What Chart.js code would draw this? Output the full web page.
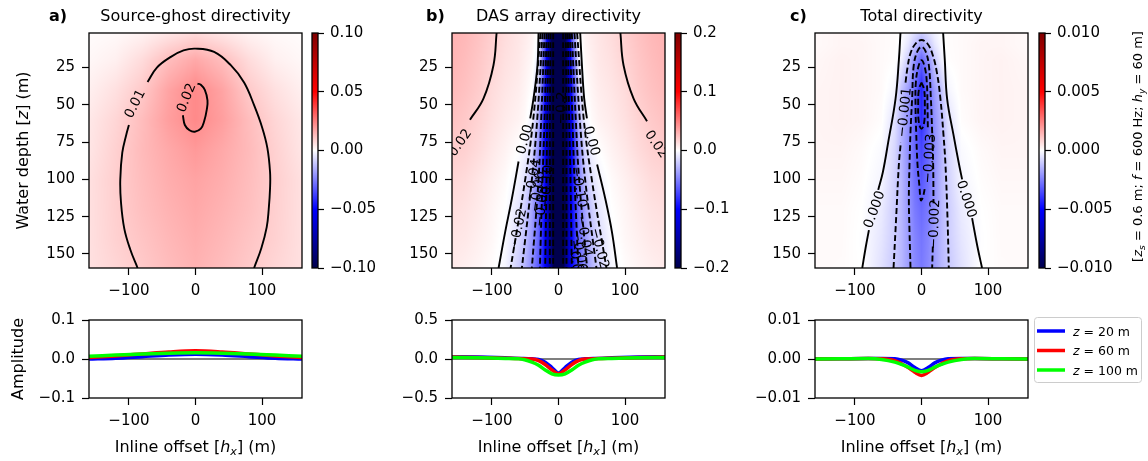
<!DOCTYPE html>
<html>
<head>
<meta charset="utf-8">
<script src="https://cdn.jsdelivr.net/npm/chart.js@4.4.1/dist/chart.umd.min.js"></script>
<style>
  body { margin: 0; background: #fff; }
  #fig { position: relative; width: 1148px; height: 461px; overflow: hidden; background: #fff; }
  #fig canvas { position: absolute; left: 0; top: 0; }
</style>
</head>
<body>
<div id="fig"></div>
<script>
// ---------------- data ----------------
const offsetRange = [-160, 160];
const depthRange = [1.8, 159.4];
const offsetTicks = [-100, 0, 100];
const depthTicks = [25, 50, 75, 100, 125, 150];

// a) source-ghost directivity, half profile (symmetric in offset)
const ghostOffsets = [0, 40, 80, 120, 160];
const ghostDepths = [0, 20, 40, 60, 80, 100, 120, 140, 160];
const ghostField = [
  [0.006, 0.004, 0.002, 0.001, 0.0005],
  [0.017, 0.013, 0.007, 0.003, 0.0015],
  [0.023, 0.018, 0.0105, 0.006, 0.003],
  [0.023, 0.019, 0.013, 0.008, 0.0045],
  [0.020, 0.017, 0.0135, 0.009, 0.005],
  [0.018, 0.016, 0.013, 0.0095, 0.006],
  [0.017, 0.015, 0.0125, 0.0093, 0.006],
  [0.016, 0.014, 0.0115, 0.009, 0.006],
  [0.015, 0.013, 0.0105, 0.008, 0.006]
];
// b) DAS array directivity
const dasOffsets = [0, 10, 20, 30, 40, 50, 60, 80, 100, 120, 140, 160];
const dasDepths = [0, 20, 40, 60, 80, 100, 120, 140, 160];
const dasField = [
  [-0.4, -0.2, -0.06, 0.0, 0.005, 0.008, 0.010, 0.014, 0.019, 0.024, 0.028, 0.030],
  [-0.4, -0.2, -0.08, -0.008, 0.003, 0.006, 0.009, 0.012, 0.017, 0.022, 0.026, 0.029],
  [-0.4, -0.2, -0.09, -0.02, 0.0, 0.004, 0.007, 0.010, 0.014, 0.020, 0.024, 0.027],
  [-0.4, -0.2, -0.10, -0.03, -0.005, 0.002, 0.005, 0.008, 0.012, 0.017, 0.021, 0.024],
  [-0.4, -0.2, -0.10, -0.045, -0.015, -0.005, 0.0, 0.005, 0.009, 0.014, 0.018, 0.020],
  [-0.4, -0.2, -0.10, -0.05, -0.025, -0.012, -0.005, 0.002, 0.006, 0.010, 0.014, 0.016],
  [-0.35, -0.2, -0.10, -0.06, -0.035, -0.02, -0.01, 0.0, 0.004, 0.008, 0.011, 0.013],
  [-0.3, -0.18, -0.10, -0.06, -0.04, -0.025, -0.015, -0.002, 0.003, 0.006, 0.009, 0.010],
  [-0.3, -0.17, -0.10, -0.065, -0.045, -0.03, -0.02, -0.004, 0.001, 0.004, 0.006, 0.008]
];
// c) total directivity
const totalOffsets = [0, 10, 20, 30, 40, 60, 90, 120, 160];
const totalDepths = [0, 10, 20, 40, 60, 80, 100, 120, 140, 160];
const totalField = [
  [-0.0007, -0.0005, -0.0002, 0.0, 0.00005, 0.0001, 0.00015, 0.0002, 0.0001],
  [-0.0019, -0.0012, -0.0005, -0.0001, 0.00005, 0.0001, 0.0002, 0.0002, 0.0001],
  [-0.0030, -0.0022, -0.0010, -0.0003, 0.00003, 0.0001, 0.0002, 0.00025, 0.00015],
  [-0.0043, -0.0029, -0.0019, -0.0012, -0.0002, 0.0001, 0.0002, 0.00025, 0.0002],
  [-0.0041, -0.0031, -0.0021, -0.0014, -0.0006, 0.00005, 0.0002, 0.00025, 0.0002],
  [-0.0036, -0.0030, -0.0022, -0.0015, -0.0008, -0.0001, 0.0001, 0.0002, 0.0002],
  [-0.0033, -0.0028, -0.0021, -0.0014, -0.0009, -0.0002, 0.00005, 0.00015, 0.00015],
  [-0.0029, -0.0026, -0.0020, -0.0014, -0.0010, -0.0004, 0.0, 0.0001, 0.0001],
  [-0.0027, -0.0024, -0.0019, -0.0014, -0.0010, -0.0005, -0.00003, 0.0001, 0.0001],
  [-0.0026, -0.0023, -0.0019, -0.0014, -0.0011, -0.0006, 0.0, 0.00008, 0.0001]
];

// colour bar limits and ticks
const cbarTicksA = [-0.1, -0.05, 0, 0.05, 0.1];
const cbarTicksB = [-0.2, -0.1, 0, 0.1, 0.2];
const cbarTicksC = [-0.01, -0.005, 0, 0.005, 0.01];

// contour lines [offset, depth]; null = break for a label
const ghost001 = [[-87, 159.4], [-98, 147], [-107, 133], [-112, 115], [-113, 100], [-110, 82], [-104, 70], [-100, 63.5], null,
  [-72, 34.6], [-58, 25], [-37, 17.8], [-18, 13.5], [0, 12.3], [28, 14.5], [53, 23.4], [73, 35], [88, 50.2], [100, 65],
  [108, 79], [112, 95], [112, 106], [110, 120], [107, 132], [99, 146], [88, 159.4]];
const ghost002 = [[-19, 57], [-16, 63.5], [-9, 67], [-1, 68], [8, 66], [13, 61], [17, 53], [18, 47], [14, 40], [8, 36.5], [3, 35.7]];
const ghostLabels = [['0.01', -92, 49, -63], ['0.02', -15, 45, -68]];

const das002L = [[-93, 1.8], [-97.7, 23.4], [-112.8, 45.8], [-133, 60]];
const das002R = [[93, 1.8], [97.7, 23.4], [112.8, 45.8], [133, 61]];
const das000L = [[-30, 1.8], [-31.6, 23.4], [-37.6, 45.8], [-42.5, 59], null, [-60, 88], [-70, 112.8], [-80, 135], [-90, 159.4]];
const das000R = [[32.6, 1.8], [35.2, 23.4], [38.6, 45.8], [42.7, 59], null, [58, 90], [70.2, 112.8], [80.2, 135], [88, 159.4]];
const dasNegDepths = [1.8, 60, 100, 159.4];
const dasNegL = [[-27, -38, -50, -72], [-24, -32, -40, -55], [-21, -26, -30, -40], [-18, -21, -24, -28], [-15, -17, -18, -20], [-12, -13, -13, -13], [-8, -8, -8, -8]];
const dasNegR = [[28, 38, 50, 72], [24, 32, 40, 57], [20, 26, 31, 43], [17, 21, 24, 30], [14, 16, 18, 20], [11, 12, 12, 12], [7, 7, 7, 7]];
const dasLabels = [['0.02', -149, 75, -55], ['0.02', 148, 76, 55], ['0.00', -52, 73, -74], ['0.00', 51, 74, 74],
  ['\u22120.02', -62, 133, -78], ['\u22120.02', 63, 146, 76], ['\u22120.04', -40, 100, -80], ['\u22120.06', -33, 108, -82],
  ['\u22120.08', -27, 118, -84], ['\u22120.10', -19, 104, -85], ['\u22120.04', 40, 138, 80], ['\u22120.06', 33, 148, 82],
  ['\u22120.08', 27, 154, 84], ['\u22120.10', 32, 105, 80], ['\u22120.2', 3, 52, -88]];

const total000L = [[-31.6, 1.8], [-34, 20], [-39, 46], [-50, 75], [-58, 95], [-65, 107], null, [-79, 134], [-84, 146], [-89, 159.4]];
const total000R = [[32.5, 1.8], [35, 20], [38.5, 46], [48, 70], [56, 89], [61, 100], null, [76, 126], [84, 145], [91, 159.4]];
const total001 = [[-42, 159.4], [-38, 125], [-34, 90], [-31, 75], null, [-24, 35], [-21, 25], [-16.5, 15.4], [-9, 9], [0, 6.5],
  [9, 9], [16, 15.4], [23, 28], [28.6, 46.7], [33, 70], [36, 90], [39, 125], [41, 159.4]];
const total002 = [[-16.5, 159.4], [-18, 135], [-19, 112.7], [-18, 90], [-16.5, 68], [-14, 45], [-11.6, 23.4], [-6, 14], [0, 11.1],
  [6, 14], [11, 23.4], [14, 45], [16, 68], [17.5, 90], [18, 112], [18, 116], null, [17, 145], [16, 159.4]];
const total003 = [[9.5, 65], [9, 50], [8, 35], [5, 25], [0, 20], [-5, 25], [-8.5, 35], [-9, 50], [-8, 68], [-6, 90], [-3, 105],
  [-1, 114], [2, 112], [5, 106]];
const total004 = [[0, 35], [4, 40], [5, 50], [4.5, 60], [2, 65], [0, 66], [-2, 65], [-4.5, 60], [-5, 50], [-4, 40], [0, 35]];
const totalLabels = [['0.000', -72, 120, -70], ['0.000', 69, 113, 72], ['\u22120.001', -27, 55, -84],
  ['\u22120.002', 18, 130, -88], ['\u22120.003', 10.5, 86, -86]];

// amplitude sections at three depths
const ampTicksA = [-0.1, 0, 0.1];
const ampTicksB = [-0.5, 0, 0.5];
const ampTicksC = [-0.01, 0, 0.01];
const sectionOffsetsA = [-160, -120, -80, -40, 0, 40, 80, 120, 160];
const ghostAmpZ20 = [0.000, 0.002, 0.006, 0.010, 0.012, 0.010, 0.006, 0.002, 0.000];
const ghostAmpZ60 = [0.004, 0.008, 0.013, 0.018, 0.021, 0.018, 0.013, 0.008, 0.004];
const ghostAmpZ100 = [0.007, 0.010, 0.013, 0.015, 0.016, 0.015, 0.013, 0.010, 0.007];
const sectionOffsets = [-160, -120, -80, -60, -40, -30, -20, -10, 0, 10, 20, 30, 40, 60, 80, 120, 160];
const dasAmpZ20 = [0.03, 0.025, 0.015, 0.008, 0.002, -0.005, -0.04, -0.11, -0.18, -0.11, -0.04, -0.005, 0.002, 0.008, 0.015, 0.025, 0.03];
const dasAmpZ60 = [0.025, 0.02, 0.01, 0.005, 0.0, -0.02, -0.07, -0.14, -0.19, -0.14, -0.07, -0.02, 0.0, 0.005, 0.01, 0.02, 0.025];
const dasAmpZ100 = [0.02, 0.015, 0.008, 0.003, -0.04, -0.08, -0.14, -0.19, -0.205, -0.19, -0.14, -0.08, -0.04, 0.003, 0.008, 0.015, 0.02];
const totalAmpZ20 = [0, 0.00005, 0.0001, 0.0001, 0.00005, -0.0003, -0.001, -0.0022, -0.003, -0.0022, -0.001, -0.0003, 0.00005, 0.0001, 0.0001, 0.00005, 0];
const totalAmpZ60 = [0, 0.00005, 0.0001, 0.00005, -0.0004, -0.0012, -0.0022, -0.0034, -0.0042, -0.0034, -0.0022, -0.0012, -0.0004, 0.00005, 0.0001, 0.00005, 0];
const totalAmpZ100 = [0, 0.00005, 0.0001, -0.0001, -0.0008, -0.0014, -0.0021, -0.0029, -0.0033, -0.0029, -0.0021, -0.0014, -0.0008, -0.0001, 0.0001, 0.00005, 0];
const seriesNames = ['20 m', '60 m', '100 m'];
const seriesColors = ['#0000ff', '#ff0000', '#00ff00'];

// ---------------- helpers ----------------
const W = 1148, H = 461;
const FAMILY = "'DejaVu Sans', sans-serif";

function fmt(v, d) {
  return (v < 0 ? '\u2212' : '') + Math.abs(v).toFixed(d);
}

// matplotlib "seismic"
function seismic(t) {
  const f = Math.min(1, Math.max(0, (t + 1) / 2));
  const stops = [[0, 0, 0, 0.3], [0.25, 0, 0, 1], [0.5, 1, 1, 1], [0.75, 1, 0, 0], [1, 0.5, 0, 0]];
  for (let k = 1; k < stops.length; k++) {
    if (f <= stops[k][0]) {
      const a = stops[k - 1], b = stops[k], u = (f - a[0]) / (b[0] - a[0]);
      return [1, 2, 3].map(c => Math.round(255 * (a[c] + u * (b[c] - a[c]))));
    }
  }
  return [128, 0, 0];
}

function locate(arr, v) {
  const n = arr.length - 1;
  if (v <= arr[0]) return [0, 0, 0];
  if (v >= arr[n]) return [n, n, 0];
  let k = 0;
  while (arr[k + 1] < v) k++;
  return [k, k + 1, (v - arr[k]) / (arr[k + 1] - arr[k])];
}

function sample(f, hx, z) {
  const [i0, i1, u] = locate(f.xs, Math.abs(hx));
  const [j0, j1, w] = locate(f.zs, z);
  const a = f.v[j0][i0] * (1 - u) + f.v[j0][i1] * u;
  const b = f.v[j1][i0] * (1 - u) + f.v[j1][i1] * u;
  return a * (1 - w) + b * w;
}

function runFont(style, size, weight) {
  const sz = style === 's' ? size * 0.7 : size;
  const it = (style === 'i' || style === 's') ? 'italic' : 'normal';
  return it + ' ' + (weight || 'normal') + ' ' + sz + 'px ' + FAMILY;
}

// runs: [text, style] with style '' | 'i' (italic) | 's' (italic subscript)
function drawRich(ctx, runs, x, y, size, o) {
  o = o || {};
  ctx.save();
  ctx.translate(x, y);
  if (o.rot) ctx.rotate(o.rot * Math.PI / 180);
  ctx.fillStyle = '#000';
  ctx.textAlign = 'left';
  ctx.textBaseline = 'alphabetic';
  let total = 0;
  const widths = runs.map(r => { ctx.font = runFont(r[1], size, o.weight); const w = ctx.measureText(r[0]).width; total += w; return w; });
  let cx = o.align === 'left' ? 0 : -total / 2;
  runs.forEach((r, i) => {
    ctx.font = runFont(r[1], size, o.weight);
    ctx.fillText(r[0], cx, size * 0.36 + (r[1] === 's' ? size * 0.22 : 0));
    cx += widths[i];
  });
  ctx.restore();
}

function addCanvas() {
  const c = document.createElement('canvas');
  c.width = W; c.height = H;
  c.style.width = W + 'px'; c.style.height = H + 'px';
  document.getElementById('fig').appendChild(c);
  return c;
}

function axisOpts(ticksArr, d, extra, cb) {
  return Object.assign({
    type: 'linear',
    afterBuildTicks: s => { s.ticks = ticksArr.map(v => ({ value: v })); },
    afterFit: s => {
      if (s.isHorizontal()) s.height = 40; else s.width = cb ? 85 : 60;
      s.paddingTop = 0; s.paddingBottom = 0; s.paddingLeft = 0; s.paddingRight = 0;
    },
    grid: { display: true, drawOnChartArea: false, drawTicks: true, tickLength: cb ? 6 : 7, tickWidth: 1.2, tickColor: '#000', color: '#000' },
    border: { display: false },
    ticks: { color: '#000', font: { family: FAMILY, size: 15 }, padding: cb ? 6 : 7, autoSkip: false, maxRotation: 0, minRotation: 0,
      callback: v => fmt(v, d) }
  }, extra);
}

function frame(ctx, a) {
  ctx.save();
  ctx.strokeStyle = '#000';
  ctx.lineWidth = 1.3;
  ctx.strokeRect(a.left, a.top, a.right - a.left, a.bottom - a.top);
  ctx.restore();
}

function makeChart(box, xAxis, yAxis, datasets, plugins, opts) {
  opts = opts || {};
  const yW = opts.yRight ? 85 : 60, xH = 40;
  return new Chart(addCanvas(), {
    type: 'scatter',
    data: { datasets: datasets },
    options: {
      responsive: false, animation: false, devicePixelRatio: 1, events: [],
      layout: { padding: {
        left: opts.yRight ? box.l : box.l - yW,
        right: opts.yRight ? W - box.r - yW : W - box.r,
        top: box.t,
        bottom: opts.noX ? H - box.b : H - box.b - xH } },
      plugins: { legend: { display: false }, tooltip: { enabled: false } },
      scales: { x: xAxis, y: yAxis }
    },
    plugins: plugins
  });
}

function pts(list) {
  return list.map(p => p ? { x: p[0], y: p[1] } : { x: null, y: null });
}

function contour(list, dashed) {
  return { data: pts(list), showLine: true, borderColor: '#000', borderWidth: 1.9, borderDash: dashed ? [6, 3] : [],
    pointRadius: 0, tension: 0.4, spanGaps: false };
}

function heatPlugin(field) {
  return {
    id: 'heat',
    beforeDatasetsDraw(chart) {
      const a = chart.chartArea, sx = chart.scales.x, sy = chart.scales.y;
      const w = Math.round(a.right - a.left), h = Math.round(a.bottom - a.top);
      const off = document.createElement('canvas');
      off.width = w; off.height = h;
      const octx = off.getContext('2d');
      const img = octx.createImageData(w, h);
      for (let j = 0; j < h; j++) {
        const z = sy.getValueForPixel(a.top + j + 0.5);
        for (let i = 0; i < w; i++) {
          const c = seismic(sample(field, sx.getValueForPixel(a.left + i + 0.5), z) / field.vmax);
          const k = 4 * (j * w + i);
          img.data[k] = c[0]; img.data[k + 1] = c[1]; img.data[k + 2] = c[2]; img.data[k + 3] = 255;
        }
      }
      octx.putImageData(img, 0, 0);
      chart.ctx.drawImage(off, a.left, a.top);
    }
  };
}

function decoPlugin(labels, texts) {
  return {
    id: 'deco',
    afterDatasetsDraw(chart) {
      const ctx = chart.ctx, a = chart.chartArea;
      if (labels) {
        ctx.save();
        ctx.beginPath();
        ctx.rect(a.left, a.top, a.right - a.left, a.bottom - a.top);
        ctx.clip();
        labels.forEach(l => {
          drawRich(ctx, [[l[0], '']], chart.scales.x.getPixelForValue(l[1]), chart.scales.y.getPixelForValue(l[2]), 13.5, { rot: l[3] });
        });
        ctx.restore();
      }
      frame(ctx, a);
    },
    afterDraw(chart) {
      if (texts) texts(chart.ctx, chart.chartArea);
    }
  };
}

function cbarPlugin(vmax) {
  return {
    id: 'cbar',
    beforeDatasetsDraw(chart) {
      const ctx = chart.ctx, a = chart.chartArea, sy = chart.scales.y;
      for (let py = Math.floor(a.top); py < a.bottom; py++) {
        const c = seismic(sy.getValueForPixel(py + 0.5) / vmax);
        ctx.fillStyle = 'rgb(' + c.join(',') + ')';
        ctx.fillRect(a.left, py, a.right - a.left, 1);
      }
    }
  };
}

// ---------------- panels ----------------
const rowTop = { t: 33, b: 268 };
const rowBottom = { t: 320, b: 398 };
const panels = [
  { l: 89, r: 302, cb: [312, 318], tag: 'a)', tagDx: -40, title: 'Source-ghost directivity',
    field: { xs: ghostOffsets, zs: ghostDepths, v: ghostField, vmax: 0.1 }, cbarTicks: cbarTicksA, cbarDec: 2,
    lines: [contour(ghost001, false), contour(ghost002, false)], labels: ghostLabels,
    amp: [ghostAmpZ20, ghostAmpZ60, ghostAmpZ100], ampX: sectionOffsetsA, ampTicks: ampTicksA, ampDec: 1 },
  { l: 452, r: 665, cb: [675, 681], tag: 'b)', tagDx: -26, title: 'DAS array directivity',
    field: { xs: dasOffsets, zs: dasDepths, v: dasField, vmax: 0.2 }, cbarTicks: cbarTicksB, cbarDec: 1,
    lines: [contour(das002L, false), contour(das002R, false), contour(das000L, false), contour(das000R, false)]
      .concat(dasNegL.map(r => contour(r.map((x, i) => [x, dasNegDepths[i]]), true)))
      .concat(dasNegR.map(r => contour(r.map((x, i) => [x, dasNegDepths[i]]), true))),
    labels: dasLabels,
    amp: [dasAmpZ20, dasAmpZ60, dasAmpZ100], ampX: sectionOffsets, ampTicks: ampTicksB, ampDec: 1 },
  { l: 815, r: 1028, cb: [1039, 1045], tag: 'c)', tagDx: -25, title: 'Total directivity',
    field: { xs: totalOffsets, zs: totalDepths, v: totalField, vmax: 0.01 }, cbarTicks: cbarTicksC, cbarDec: 3,
    lines: [contour(total000L, false), contour(total000R, false), contour(total001, true), contour(total002, true),
      contour(total003, true), contour(total004, true)],
    labels: totalLabels,
    amp: [totalAmpZ20, totalAmpZ60, totalAmpZ100], ampX: sectionOffsets, ampTicks: ampTicksC, ampDec: 2 }
];

panels.forEach((p, idx) => {
  const box = { l: p.l, r: p.r, t: rowTop.t, b: rowTop.b };
  // heat map with contours
  makeChart(box,
    axisOpts(offsetTicks, 0, { min: offsetRange[0], max: offsetRange[1] }),
    axisOpts(depthTicks, 0, { min: depthRange[0], max: depthRange[1], reverse: true }),
    p.lines,
    [heatPlugin(p.field), decoPlugin(p.labels, (ctx, a) => {
      const cx = (a.left + a.right) / 2;
      drawRich(ctx, [[p.title, '']], cx, a.top - 18, 16);
      drawRich(ctx, [[p.tag, '']], a.left + p.tagDx, a.top - 18, 16, { align: 'left', weight: 'bold' });
      if (idx === 0) {
        drawRich(ctx, [['Water depth [', ''], ['z', 'i'], ['] (m)', '']], a.left - 67, (a.top + a.bottom) / 2, 16, { rot: -90 });
      }
    })]);

  // colour bar
  const vmax = p.field.vmax;
  makeChart({ l: p.cb[0], r: p.cb[1], t: rowTop.t, b: rowTop.b },
    { type: 'linear', display: false, min: 0, max: 1 },
    axisOpts(p.cbarTicks, p.cbarDec, { min: -vmax, max: vmax, position: 'right' }, true),
    [], [cbarPlugin(vmax), decoPlugin(null, idx === 2 ? (ctx, a) => {
      drawRich(ctx, [['[', ''], ['z', 'i'], ['s', 's'], [' = 0.6 m; ', ''], ['f', 'i'], [' = 600 Hz; ', ''], ['h', 'i'], ['y', 's'], [' = 60 m]', '']],
        a.right + 92, (a.top + a.bottom) / 2 - 4, 13, { rot: -90 });
    } : null)],
    { yRight: true, noX: true });

  // amplitude sections
  const vr = p.ampTicks[2];
  const sets = [{ data: pts([[offsetRange[0], 0], [offsetRange[1], 0]]), showLine: true, borderColor: '#000', borderWidth: 1.2,
    pointRadius: 0, order: 10 }];
  p.amp.forEach((arr, k) => {
    sets.push({ data: pts(p.ampX.map((x, i) => [x, arr[i]])), showLine: true, borderColor: seriesColors[k], borderWidth: 3.5,
      pointRadius: 0, cubicInterpolationMode: 'monotone', order: 3 - k });
  });
  makeChart({ l: p.l, r: p.r, t: rowBottom.t, b: rowBottom.b },
    axisOpts(offsetTicks, 0, { min: offsetRange[0], max: offsetRange[1] }),
    axisOpts(p.ampTicks, p.ampDec, { min: -vr, max: vr }),
    sets,
    [decoPlugin(null, (ctx, a) => {
      drawRich(ctx, [['Inline offset [', ''], ['h', 'i'], ['x', 's'], ['] (m)', '']], (a.left + a.right) / 2, a.bottom + 48, 16);
      if (idx === 0) drawRich(ctx, [['Amplitude', '']], a.left - 72, (a.top + a.bottom) / 2, 16, { rot: -90 });
      if (idx === 2) {
        const bx = a.right + 6, by = a.top - 3;
        ctx.save();
        ctx.fillStyle = 'rgba(255,255,255,0.8)';
        ctx.strokeStyle = '#cccccc';
        ctx.lineWidth = 1;
        ctx.beginPath();
        ctx.roundRect(bx + 0.5, by + 0.5, 107, 65, 3);
        ctx.fill(); ctx.stroke();
        seriesNames.forEach((name, k) => {
          const ly = by + 14 + k * 19.5;
          ctx.strokeStyle = seriesColors[k];
          ctx.lineWidth = 3.5;
          ctx.beginPath(); ctx.moveTo(bx + 3, ly); ctx.lineTo(bx + 31, ly); ctx.stroke();
          drawRich(ctx, [['z', 'i'], [' = ' + name, '']], bx + 39, ly, 12.5, { align: 'left' });
        });
        ctx.restore();
      }
    })]);
});
</script>
</body>
</html>
